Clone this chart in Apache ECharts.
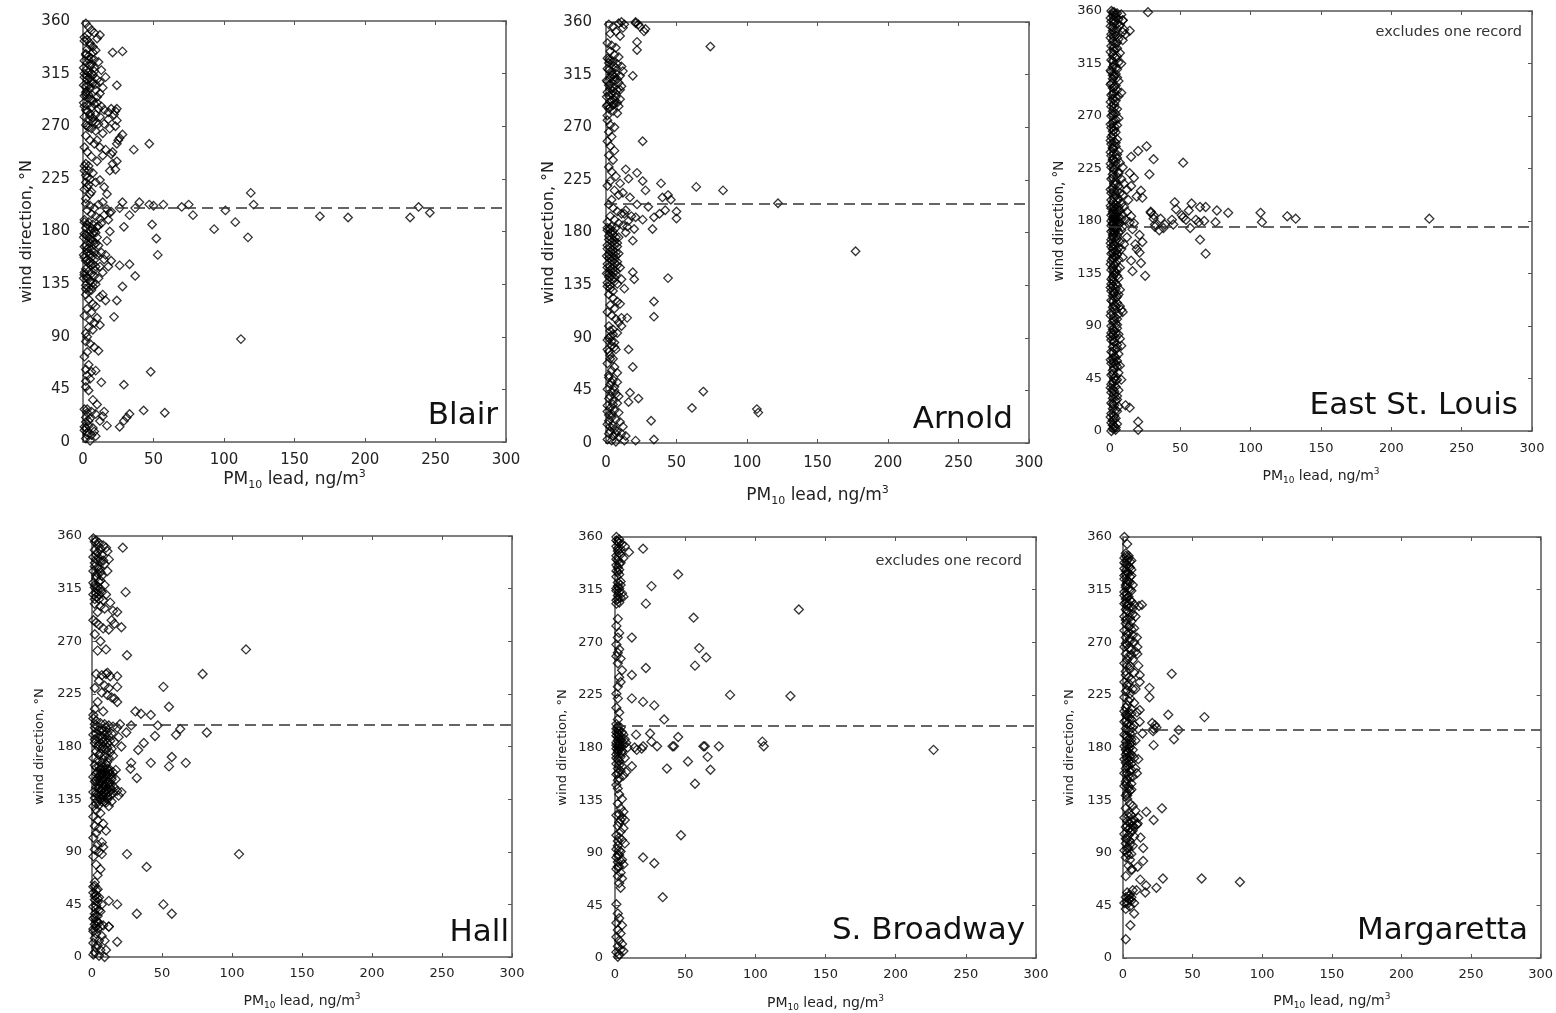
<!DOCTYPE html>
<html><head><meta charset="utf-8">
<script src="https://cdn.jsdelivr.net/npm/echarts@6/dist/echarts.min.js"></script>
<style>html,body{margin:0;padding:0;background:#fff}#c{width:1556px;height:1013px}</style>
</head><body><div id="c"></div>
<script>
// ---------------- DATA ----------------
const siteNames = ['Blair', 'Arnold', 'East St. Louis', 'Hall', 'S. Broadway', 'Margaretta'];
const siteNotes = ['', '', 'excludes one record', '', 'excludes one record', ''];
const dashDirection = [200, 205, 175, 199, 199, 195];
const xTickInterval = 50, yTickInterval = 45;
const xMax = 300, yMax = 360;

// [PM10 lead ng/m3, wind direction deg N]
const blair = [
 [238,201],[246,196],[232,192],[188,192],[168,193],[119,213],[121,203],[117,175],[108,188],[101,198],[93,182],[112,88],
 [75,203],[70,201],[78,194],[57,203],[50,202],[47,203],[49,186],[52,174],[53,160],[47,255],[36,250],[48,60],[29,49],
 [43,27],[58,25],[33,24],[31,21],[29,18],[26,13],[17,14],[21,333],[28,334],[24,305],[40,205],[37,200],[33,194],[29,184],
 [28,205],[26,200],[33,152],[26,151],[37,142],[28,133],[24,121],[22,107],[19,180],[19,196],[24,240],[25,258],[28,263],
 [21,248],[24,285],[23,270],
 [2,358],[4,355],[6,352],[3,348],[8,350],[10,345],[1,343],[5,341],[7,338],[3,336],[12,348],[9,335],
 [2,332],[4,330],[6,328],[1,326],[3,324],[5,322],[8,320],[2,318],[4,316],[7,314],[1,312],[3,310],[6,308],[9,306],[2,304],
 [5,302],[3,300],[11,325],[13,318],[10,310],[14,303],[12,298],[16,312],[8,327],[6,315],[4,305],[2,297],
 [1,296],[4,294],[7,292],[10,290],[3,288],[6,286],[13,287],[15,284],[2,284],[5,281],[9,280],[12,278],[18,282],[20,285],
 [1,278],[4,276],[7,274],[11,272],[3,270],[6,268],[15,272],[18,276],[22,280],[9,266],[14,264],[19,268],[24,275],[23,283],
 [2,262],[5,258],[8,255],[12,252],[16,250],[20,246],[3,248],[6,244],[10,240],[14,245],[1,236],[4,232],[7,230],[2,228],
 [5,225],[9,222],[3,218],[6,214],[12,224],[15,218],[17,212],[21,238],[23,233],[19,232],[26,260],[24,255],[1,252],[10,258],
 [2,204],[5,202],[8,200],[11,203],[14,205],[17,199],[20,197],[3,198],[6,195],[9,193],[12,191],[15,194],[1,190],[4,188],
 [7,186],[10,184],[13,187],[18,190],[2,183],[5,181],[8,180],
 [1,178],[3,176],[5,174],[7,172],[9,170],[2,168],[4,166],[6,164],[8,162],[10,160],[1,158],[3,156],[5,154],[7,152],[9,150],
 [2,148],[4,146],[6,144],[8,142],[11,168],[13,162],[15,156],[12,150],[14,145],[17,172],[3,140],[5,138],[7,136],[2,134],
 [4,132],[6,130],[9,135],[11,140],[16,160],[18,150],[20,155],[1,145],[3,162],[5,170],[7,178],
 [2,126],[4,122],[7,118],[3,114],[6,111],[9,116],[12,124],[14,126],[1,108],[5,104],[10,106],[12,100],[4,98],[7,96],[2,93],
 [3,90],[8,102],[16,121],
 [2,86],[5,84],[8,81],[11,78],[3,77],[1,73],[4,66],[2,62],[6,60],[9,61],[3,57],[5,54],[13,51],[2,52],
 [2,47],[4,44],[7,36],[10,32],[3,28],[6,26],[9,24],[15,26],[14,22],[5,20],[2,17],[4,14],[7,12],[1,10],[3,8],[6,6],[9,5],
 [2,3],[5,1],[8,9],[12,18]
];
const blairDense = [
 [1,346],[3,344],[5,339],[7,333],[2,331],[4,327],[6,323],[8,317],[1,315],[3,313],[5,311],[7,307],[9,301],[2,299],[4,297],
 [6,293],[8,289],[1,287],[3,283],[5,279],[7,277],[9,273],[2,271],[4,269],[10,295],[11,285],[12,308],[0.5,320],[0.5,305],[0.5,290],
 [1,188],[3,186],[5,184],[7,182],[9,179],[2,177],[4,175],[6,173],[8,169],[1,167],[3,165],[5,161],[7,159],[9,157],[2,155],
 [4,153],[6,151],[8,147],[1,143],[3,141],[5,137],[7,133],[2,131],[4,129],[10,175],[11,185],[0.5,160],[0.5,175],[0.5,140],
 [2,238],[4,236],[1,232],[3,226],[2,222],[4,220],[1,216],[5,212],[2,208],
 [1,28],[3,25],[2,21],[4,18],[1,13],[3,6],[2,12]
];

const arnold = [
 [177,164],[122,205],[83,216],[64,219],[74,339],[108,26],[107,29],[69,44],[61,30],[44,141],[34,121],[34,108],[32,19],
 [34,3],[21,2],[26,258],[19,314],[22,343],[22,336],[27,352],[21,359],[50,192],[50,198],[46,208],[44,212],[39,222],
 [40,210],[42,199],[38,196],[34,193],[33,183],[30,202],[28,216],[26,224],[22,231],[22,204],[26,191],[20,183],[19,173],
 [21,193],[17,210],[14,234],[16,226],[13,196],[14,180],[19,146],[20,140],[13,132],[15,107],[16,80],[19,65],[17,43],
 [23,38],[16,35],[11,107],
 [2,358],[5,356],[9,359],[11,360],[13,358],[7,352],[3,350],[10,348],[21,360],[23,358],[24,356],[28,354],[12,355],
 [1,342],[4,340],[7,338],[3,335],[6,332],[9,330],[2,328],[5,326],[8,324],[11,322],[1,320],[4,318],[7,316],[10,314],
 [3,312],[6,310],[9,308],[2,306],[5,304],[8,302],[1,300],[4,298],[7,296],[10,294],[3,292],[6,290],[0.5,288],[2,286],
 [5,284],[8,282],[1,280],[12,318],[11,305],[9,288],[3,303],[5,315],[2,325],
 [1,276],[3,272],[6,270],[2,266],[4,262],[1,258],[3,254],[6,250],[2,246],[5,242],
 [2,236],[4,232],[7,228],[3,224],[1,220],[6,216],[9,212],[4,208],[12,214],[10,222],
 [2,204],[5,201],[8,198],[11,196],[14,199],[3,194],[6,191],[9,188],[12,186],[1,189],[4,185],[7,184],[16,190],[18,194],[15,185],
 [1,182],[3,180],[5,178],[7,176],[2,174],[4,172],[6,170],[8,168],[1,166],[3,164],[5,162],[7,160],[2,158],[4,156],[6,154],
 [8,152],[1,150],[3,148],[5,146],[7,144],[2,142],[4,140],[6,138],[8,136],[1,134],[3,132],[5,130],[9,162],[10,150],[11,140],[9,176],
 [2,127],[5,124],[8,121],[3,118],[6,115],[10,119],[1,112],[4,109],[7,106],[9,103],[2,100],[5,97],[8,94],[3,91],[1,88],
 [6,86],[4,83],[7,80],[2,78],[11,100],
 [3,75],[5,72],[1,68],[6,65],[4,62],[8,60],
 [2,56],[5,54],[8,52],[3,50],[6,48],[1,46],[4,44],[7,42],[9,40],[2,38],[5,36],[8,34],[1,32],[3,30],[6,28],[9,26],[2,24],
 [4,22],[7,20],[10,18],[1,16],[3,14],[6,12],[8,10],[12,14],[2,8],[5,6],[9,5],[1,3],[4,2],[7,1],[14,6],[11,8],[13,2]
];
const arnoldDense = [
 [1,329],[3,327],[5,323],[7,321],[2,319],[4,315],[6,313],[8,311],[1,309],[3,307],[5,301],[7,299],[2,297],[4,293],[6,293],
 [8,291],[1,289],[3,287],[5,289],[0.5,296],[0.5,310],[10,302],
 [1,184],[3,183],[5,181],[2,177],[4,175],[6,173],[8,171],[1,169],[3,167],[5,165],[7,163],[2,161],[4,159],[6,157],[8,155],
 [1,153],[3,151],[5,149],[7,147],[2,145],[4,143],[6,141],[1,137],[3,135],[0.5,160],[0.5,145],
 [3,96],[5,93],[2,90],[4,87],[6,82],[1,80],[3,72],[2,58],[4,52],[6,45],[3,40],[5,33],[1,27],[4,25],[2,19],[5,15],[3,10],[7,8]
];

const eastStLouis = [
 [227,182],[132,182],[126,184],[107,187],[108,179],[84,187],[76,189],[68,192],[75,179],[68,152],[64,164],[67,180],[61,181],
 [56,189],[57,174],[52,183],[52,230],[46,196],[45,177],[38,174],[36,182],[32,175],[31,185],[29,188],[31,233],[26,244],
 [28,220],[20,240],[15,235],[23,200],[23,162],[22,144],[25,133],[19,156],[16,137],[27,359],[14,343],[20,8],[20,1],[14,20],
 [11,22],[31,182],[32,177],[35,172],[39,177],[44,181],[47,190],[51,185],[54,181],[58,195],[64,192],[63,179],[29,187],
 [14,221],[17,217],[22,206],[15,210],[19,201],[21,168],[18,160],[16,173],[21,153],[15,146],[13,198],[9,352],[9,342],
 [1,360],[3,359],[5,358],[2,356],[4,355],[6,353],[1,351],[3,350],[7,348],[2,346],[5,345],[9,352],[10,344],[8,357],[4,342],[1,340],
 [3,338],[6,336],[2,334],[4,332],[1,330],[5,328],[3,326],[7,324],[2,322],[4,320],[1,318],[6,316],[3,314],[8,315],[2,312],
 [5,310],[1,308],[4,306],[3,304],[2,302],[6,300],[9,335],[11,340],
 [1,298],[4,296],[2,294],[5,292],[3,290],[1,288],[6,287],[2,285],[4,283],[3,280],[1,278],[5,276],[2,274],[4,272],[1,270],
 [6,268],[3,266],[2,264],[5,262],[1,260],[3,258],[4,256],[2,254],[1,252],[5,250],[8,290],
 [3,248],[1,246],[4,244],[2,242],[6,240],[3,238],[1,236],[5,234],[2,232],[7,230],[4,228],[1,226],[3,224],[6,222],[2,220],
 [9,226],[5,218],[1,216],[4,214],[8,216],[3,212],[6,210],[2,208],[10,212],[5,206],[1,204],[7,204],[4,202],[12,207],[3,200],[9,202],
 [1,198],[5,197],[2,196],[8,195],[4,194],[6,192],[1,191],[3,190],[10,192],[7,189],[2,188],[5,187],[12,188],[4,186],[1,185],
 [9,185],[3,184],[6,183],[2,182],[8,182],[4,181],[1,180],[5,180],[11,181],[3,179],[7,178],[2,177],[6,177],[14,179],[1,176],
 [4,175],[9,175],[3,174],[5,173],[2,172],[8,172],[1,171],[6,170],[15,184],[17,178],
 [3,169],[5,167],[2,166],[1,164],[4,163],[7,162],[3,160],[1,158],[6,157],[2,156],[4,154],[8,156],[1,152],[5,151],[3,150],
 [2,148],[6,147],[1,146],[4,144],[3,142],[2,140],[5,139],[1,138],[4,136],[3,134],[2,132],[6,131],[1,130],[12,166],[10,160],[9,149],[7,140],
 [3,128],[1,126],[5,125],[2,124],[4,122],[7,121],[1,120],[3,118],[6,117],[2,116],[4,114],[1,112],[5,110],[3,108],[7,107],
 [2,106],[8,104],[4,104],[1,102],[6,100],[3,98],[5,96],[2,94],[4,92],[1,90],[9,102],
 [5,88],[3,86],[1,84],[6,83],[2,82],[4,80],[7,79],[1,78],[3,76],[5,74],[2,72],[8,73],[4,70],[1,68],[6,66],[3,64],[2,62],
 [5,60],[1,58],[4,57],[7,56],[3,54],[2,52],[6,50],[1,48],[4,47],[3,45],[5,44],[2,42],[8,44],[1,40],
 [4,38],[2,36],[6,35],[1,33],[3,31],[5,30],[2,28],[4,26],[1,24],[3,22],[6,21],[2,19],[5,17],[1,15],[3,13],[4,11],[2,9],
 [1,7],[5,6],[3,4],[2,2],[4,1],[1,0]
];
const eastStLouisDense = [
 [2,359],[4,357],[0.5,354],[3,352],[5,349],[0.5,347],[2,343],[4,339],[0.5,337],[5,333],[3,329],[0.5,325],[5,321],[2,317],
 [4,311],[0.5,309],[2,305],[5,303],[0.5,297],[3,295],[2,289],[4,286],[0.5,282],[3,277],[2,271],[4,267],[0.5,263],[3,261],
 [2,257],[0.5,249],[4,247],[2,243],[0.5,239],[5,237],[2,233],[4,231],[0.5,229],[3,225],[6,221],[2,217],[4,211],[0.5,207],
 [3,205],[6,199],[0.5,193],[3,192],[5,189],[2,186],[4,183],[3,181],[6,179],[2,178],[5,176],[4,173],[3,171],[2,168],[5,165],
 [0.5,161],[3,159],[5,155],[2,153],[4,149],[0.5,143],[3,137],[5,133],[2,129],[4,126],[0.5,123],[3,119],[5,115],[2,111],
 [4,107],[0.5,99],[3,95],[5,91],[2,87],[4,84],[0.5,81],[3,77],[5,71],[2,67],[4,63],[0.5,61],[3,59],[5,55],[2,49],[4,43],
 [0.5,37],[3,34],[5,27],[2,23],[4,18],[0.5,12],[3,10],[2,5],[4,3]
];

const hall = [
 [110,263],[105,88],[79,242],[82,192],[51,231],[55,214],[67,166],[57,171],[55,163],[63,195],[60,190],[47,198],[45,189],
 [42,207],[42,166],[37,183],[35,208],[31,210],[33,177],[32,153],[28,166],[27.5,161],[28,198],[24.5,192],[21,180],[21,141],
 [22,350],[24,312],[21,282],[18,295],[25,258],[10,263],[18,240],[18,231],[18,218],[11,243],[25,88],[39,77],[51,45],[57,37],
 [32,37],[18,45],[12,48],[18,13],[12,26],
 [1,358],[3,356],[5,354],[8,352],[10,350],[2,348],[4,346],[7,344],[11,347],[1,342],[3,340],[6,338],[9,336],[2,334],[5,332],
 [12,340],[1,330],[4,328],[7,326],[3,324],[6,322],[1,320],[9,318],[2,316],[4,314],[7,312],[1,310],[3,308],[5,306],[11,330],[10,310],
 [2,302],[6,300],[9,298],[4,295],[13,303],[15,296],[1,288],[3,286],[5,284],[8,281],[12,280],[14,288],[16,285],[2,276],[6,270],[4,262],
 [3,242],[7,241],[10,242],[13,240],[5,236],[9,232],[12,230],[2,230],[7,226],[11,224],[14,222],[16,221],[4,218],[2,212],[8,210],[1,207],
 [1,204],[3,202],[6,200],[9,199],[12,198],[15,197],[18,196],[2,196],[5,194],[8,193],[11,192],[14,191],[20,199],[1,190],
 [4,188],[7,187],[10,186],[13,185],[16,184],[19,188],[2,183],[5,181],[8,180],[11,179],[14,178],[3,176],[6,174],[9,172],
 [12,170],[15,172],[1,170],[4,168],[7,166],[10,165],
 [2,164],[5,163],[8,162],[11,161],[13,160],[6,160],[9,158],[12,157],[15,158],[3,157],[7,156],[10,155],[14,154],[1,154],
 [4,153],[8,152],[11,150],[17,152],[2,150],[6,149],[9,147],[13,147],[3,145],[5,144],[7,143],[10,142],[12,141],[15,140],
 [1,141],[4,139],[8,138],[11,137],[19,138],[2,136],[6,135],[9,133],[14,133],[3,131],[5,130],[12,129],[1,129],
 [3,126],[6,123],[1,120],[4,117],[8,114],[2,112],[5,110],[10,108],[3,106],[1,102],[7,98],[4,96],[8,94],[2,92],[5,90],[7,88],[1,86],
 [3,79],[6,75],[4,70],[2,64],[1,60],[3,57],
 [1,55],[3,53],[5,51],[2,49],[4,47],[7,45],[1,43],[3,41],[6,39],[2,37],[4,35],[1,33],[3,31],[5,29],[2,28],[6,26],[8,27],
 [12,26],[4,24],[1,22],[3,20],[7,18],[2,16],[5,14],[9,14],[1,12],[4,10],[3,8],[6,6],[2,4],[10,6],[1,2],[5,1],[9,0]
];
const hallDense = [
 [3,162],[6,161],[9,160],[12,159],[4,158],[7,157],[10,157],[13,156],[5,155],[8,154],[11,153],[14,152],[3,151],[6,151],
 [9,150],[12,149],[4,148],[7,147],[10,146],[13,145],[5,145],[8,144],[11,144],[14,143],[6,142],[9,141],[3,140],[7,139],
 [10,139],[13,138],[5,137],[8,136],[11,135],[4,134],[7,133],[10,132],[16,145],[17,160],[18,142],
 [2,355],[4,352],[6,349],[3,344],[5,341],[8,339],[2,337],[4,333],[6,329],[3,326],[5,321],[2,318],[4,317],[6,315],[3,311],
 [5,310],[2,306],[8,305],
 [2,199],[4,197],[7,195],[10,196],[3,191],[6,189],[9,190],[12,189],[2,186],[5,184],[8,184],[11,183],[4,180],[7,178],
 [10,177],[13,175],[5,173],[8,169],[11,167],
 [2,52],[4,50],[3,44],[5,40],[2,34],[4,30],[3,26],[1,24],[2,61],[4,58]
];

const sBroadway = [
 [227,178],[131,298],[125,224],[106,181],[105,185],[82,225],[74,181],[66,172],[68,161],[65,257],[60,265],[57,250],[56,291],
 [57,149],[63,181],[64,181],[52,168],[47,105],[45,189],[45,328],[41,181],[42,181],[37,162],[35,204],[34,52],[30,181],
 [28,216],[28,81],[26,318],[25,192],[26,185],[22,248],[22,303],[20,219],[20,350],[20,181],[19,179],[20,86],[15,191],
 [12,242],[12,222],[12,274],[12,164],[10,347],[15.5,178],[14,180],
 [1,360],[3,358],[2,356],[5,354],[1,352],[4,350],[2,348],[3,346],[1,344],[6,342],[2,340],[4,338],[1,336],[3,332],[2,330],
 [1,326],[4,322],[2,318],[3,316],[1,314],[5,312],[2,310],[4,308],[1,306],[3,304],[6,309],[7,352],
 [2,290],[1,284],[3,278],[2,274],[1,268],[3,264],[2,261],[1,258],[4,256],[2,252],[5,246],[3,240],[4,236],[2,232],
 [1,226],[2,222],[1,214],[3,210],[2,204],[1,200],
 [2,198],[4,197],[1,196],[3,194],[5,193],[2,192],[6,191],[1,190],[4,189],[3,188],[7,187],[2,186],[5,185],[1,184],[8,184],
 [3,183],[6,182],[2,181],[4,180],[1,179],[9,180],[3,178],[5,177],[2,176],[1,174],[4,172],[7,171],[2,170],[3,168],[1,166],
 [5,164],[2,162],[4,160],[8,159],[1,157],[6,156],[3,154],[2,152],
 [1,148],[2,145],[3,140],[5,136],[2,132],[4,128],[6,125],[1,122],[5,120],[7,118],[3,116],[2,113],[6,111],[4,108],[1,105],
 [3,103],[5,101],[7,98],[2,96],[1,93],[4,91],[3,88],[1,86],[5,84],[2,82],[6,80],[3,78],[1,76],[4,73],[2,70],[5,68],[3,64],[4,60],
 [1,46],[2,38],[3,34],[1,30],[5,28],[2,24],[4,21],[1,18],[3,15],[5,12],[2,10],[4,7],[1,5],[3,3],[2,1],[6,6]
];
const sBroadwayDense = [
 [1,357],[3,355],[2,350],[4,345],[1,341],[3,337],[2,334],[1,331],[3,328],[2,321],[4,319],[1,316],[3,313],[2,307],[1,303],
 [2,196],[1,193],[3,191],[2,189],[4,186],[1,182],[3,181],[2,178],[5,175],[1,171],[3,165],[2,158],[3,123],[4,118],[2,100],
 [3,92],[2,88],[4,83],[2,78]
];

const margaretta = [
 [84,65],[56.5,68],[58.5,206],[35,243],[32.5,208],[40,195],[36.6,187],[28.7,68],[28,128],[24,60],[22,118],[22,182],
 [21.6,194],[21,201],[19,223],[19,231],[16,56],[16.6,62],[16.7,125],[14,192],[14.5,83],[14.5,94],[12.4,67],[12.6,103],
 [13.6,302],[11.5,301],[12,202],[12,212],[12,236],[10.5,78],[9.7,58],[10.5,115],[8,38],[5.3,28],[2,16],[6.3,76],
 [10.3,260],[10.3,266],[22,196],[24,197],[23,199],
 [1,360],[3,354],[2,346],[4,344],[1,342],[3,340],[5,339],[2,337],[4,335],[1,333],[6,332],[3,330],[2,328],[5,326],[1,324],
 [4,322],[3,320],[7,319],[2,317],[5,315],[1,313],[3,311],[4,309],[2,307],[6,305],[1,303],[3,301],[5,300],[8,302],
 [2,298],[4,296],[7,294],[1,292],[3,290],[6,288],[9,292],[2,286],[5,284],[8,282],[1,280],[4,278],[7,276],[10,274],[2,274],
 [5,271],[8,270],[3,268],[1,266],[6,264],[9,262],[2,260],[4,258],[7,255],[1,252],[3,250],[5,247],[8,244],[2,242],[4,240],
 [6,238],[1,236],[3,233],[7,230],[2,228],[5,226],[1,223],[4,220],[8,218],[3,216],[6,213],[1,211],[10,210],[9,230],[12,242],[11,250],
 [2,208],[4,206],[6,204],[1,202],[3,200],[5,198],[8,199],[2,196],[4,194],[7,193],[1,191],[3,189],[6,187],[9,186],[2,185],
 [5,183],[1,181],[4,179],[7,178],[3,176],[2,174],[5,172],[8,171],[1,170],[4,168],[6,166],[3,164],[2,162],[5,160],[9,162],
 [1,158],[4,156],[7,155],[3,153],[2,151],[6,149],[1,147],[4,145],[5,143],[3,141],[2,139],[11,170],[10,158],
 [3,136],[5,132],[7,130],[2,128],[9,126],[4,124],[6,122],[1,120],[8,118],[11,120],[3,117],[5,115],[7,113],[10,114],[2,112],
 [4,110],[6,108],[1,106],[8,104],[3,102],[5,100],[2,98],[7,96],[4,94],[1,92],[3,90],[6,89],[2,86],[5,84],
 [4,79],[6,75],[2,70],[7,58],[3,56],[5,54],[2,52],[4,50],[6,49],[1,47],[3,46],[5,44],[8,47],[2,42]
];
const margarettaDense = [
 [2,344],[4,342],[6,340],[1,338],[3,336],[5,334],[2,331],[4,329],[6,327],[1,327],[3,323],[5,321],[2,319],[4,316],[6,314],
 [1,310],[3,308],[5,306],[2,304],[4,303],[7,299],[3,297],[5,291],[2,289],[4,283],[6,281],[3,277],[5,273],[2,269],[4,265],
 [6,259],[3,255],[5,250],[2,245],[4,235],[3,229],[5,222],[2,214],[4,210],[6,209],
 [3,207],[5,205],[2,203],[4,201],[7,197],[3,195],[5,192],[2,190],[4,187],[6,184],[3,182],[5,180],[2,178],[4,176],[6,174],
 [3,171],[5,169],[2,167],[4,165],[6,161],[3,158],[5,154],[2,149],[4,147],[6,144],[3,139],
 [4,121],[6,117],[3,113],[5,111],[7,109],[8,112],[4,105],[2,102],[5,97],[3,94],[4,88],[5,50],[3,48],[4,53],[6,52]
];

const panelData = [
  blair.concat(blairDense),
  arnold.concat(arnoldDense),
  eastStLouis.concat(eastStLouisDense),
  hall.concat(hallDense),
  sBroadway.concat(sBroadwayDense),
  margaretta.concat(margarettaDense)
];

// ---------------- LAYOUT ----------------
const FONT = 'DejaVu Sans';
const layout = [
 {l:83,  t:21,  w:423, h:421, fs:15, yfs:16, xfs:17, xGap:26, yGap:46, xm:11, ym:13, nR:8,  nB:11, ss:8.5},
 {l:606, t:22,  w:423, h:421, fs:15, yfs:16, xfs:17, xGap:42, yGap:47, xm:13, ym:14, nR:16, nB:8,  ss:8.5},
 {l:1110,t:11,  w:422, h:420, fs:13, yfs:13.5, xfs:14, xGap:36, yGap:42, xm:11, ym:8,  nR:14, nB:10, ss:9, noteR:10, noteT:21},
 {l:92,  t:536, w:420, h:421, fs:13, yfs:13, xfs:14, xGap:35, yGap:44, xm:10, ym:10, nR:3,  nB:9,  ss:9},
 {l:615, t:537, w:421, h:421, fs:13, yfs:13, xfs:14, xGap:36, yGap:44, xm:10, ym:12, nR:11, nB:12, ss:9, noteR:14, noteT:24},
 {l:1123,t:537, w:421, h:421, fs:13, yfs:13, xfs:14, xGap:34, yGap:45, xm:10, ym:11, nR:16, nB:12, ss:9}
];

const grids = [], xAxes = [], yAxes = [], series = [], graphics = [];
layout.forEach((L, i) => {
  grids.push({left: L.l, top: L.t, width: L.w, height: L.h, containLabel: false});
  const axisLine = {show: true, onZero: false, lineStyle: {color: '#555', width: 1.5}};
  const axisTick = {show: true, inside: true, length: 4, lineStyle: {color: '#555', width: 1}};
  const sub = Math.round(L.xfs * 0.62);
  xAxes.push({
    type: 'value', gridIndex: i, position: 'bottom', min: 0, max: xMax, interval: xTickInterval,
    axisLine, axisTick, splitLine: {show: false},
    axisLabel: {margin: L.xm, fontSize: L.fs, fontFamily: FONT, color: '#222'},
    name: '{m|PM}{s|10}{m| lead, ng/m}{p|3}', nameLocation: 'middle', nameGap: L.xGap,
    nameTextStyle: {
      fontFamily: FONT, color: '#222',
      rich: {
        m: {fontSize: L.xfs, lineHeight: Math.round(L.xfs * 1.3), fontFamily: FONT, color: '#222'},
        s: {fontSize: sub, lineHeight: sub, verticalAlign: 'bottom', fontFamily: FONT, color: '#222'},
        p: {fontSize: sub, lineHeight: sub, verticalAlign: 'top', fontFamily: FONT, color: '#222'}
      }
    }
  });
  xAxes.push({
    type: 'value', gridIndex: i, position: 'top', min: 0, max: xMax, interval: xTickInterval,
    axisLine, axisTick, splitLine: {show: false}, axisLabel: {show: false}
  });
  yAxes.push({
    type: 'value', gridIndex: i, position: 'left', min: 0, max: yMax, interval: yTickInterval,
    axisLine, axisTick, splitLine: {show: false},
    axisLabel: {margin: L.ym, fontSize: L.fs, fontFamily: FONT, color: '#222'},
    name: 'wind direction, °N', nameLocation: 'middle', nameGap: L.yGap,
    nameTextStyle: {fontSize: L.yfs, fontFamily: FONT, color: '#222', lineHeight: Math.round(L.yfs * 1.25)}
  });
  yAxes.push({
    type: 'value', gridIndex: i, position: 'right', min: 0, max: yMax, interval: yTickInterval,
    axisLine, axisTick, splitLine: {show: false}, axisLabel: {show: false}
  });
  series.push({
    type: 'scatter', xAxisIndex: 2 * i, yAxisIndex: 2 * i, data: panelData[i],
    symbol: 'diamond', symbolSize: L.ss, silent: true,
    itemStyle: {color: 'rgba(255,255,255,0)', borderColor: '#000', borderWidth: 1.3},
    markLine: {
      silent: true, symbol: 'none', label: {show: false}, animation: false,
      lineStyle: {color: '#333', width: 1.5, type: [11, 6]},
      data: [{yAxis: dashDirection[i]}]
    },
    z: 3
  });
  graphics.push({
    type: 'text', x: L.l + L.w - L.nR, y: L.t + L.h - L.nB, silent: true, z: 10,
    style: {text: siteNames[i], font: '31px "DejaVu Sans"', fill: '#111', align: 'right', verticalAlign: 'bottom'}
  });
  if (siteNotes[i]) {
    graphics.push({
      type: 'text', x: L.l + L.w - L.noteR, y: L.t + L.noteT, silent: true, z: 10,
      style: {text: siteNotes[i], font: '14.5px "DejaVu Sans"', fill: '#333', align: 'right', verticalAlign: 'middle'}
    });
  }
});

const chart = echarts.init(document.getElementById('c'), null, {renderer: 'canvas'});
chart.setOption({
  animation: false,
  backgroundColor: '#fff',
  grid: grids, xAxis: xAxes, yAxis: yAxes, series: series, graphic: graphics
});
</script>
</body></html>
